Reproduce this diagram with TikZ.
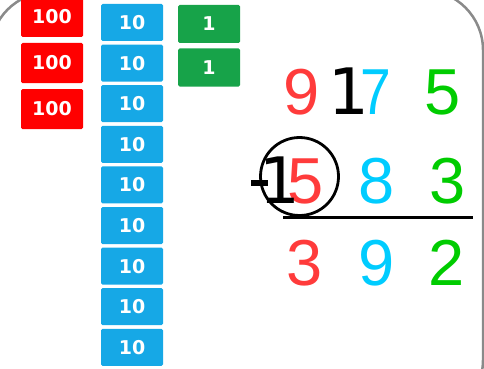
\documentclass[tikz,border=0pt]{standalone}
\usepackage{fontspec}
\newfontfamily\lib{Liberation Sans}
\newfontfamily\dvs{DejaVu Sans}
\definecolor{blkred}{HTML}{FF0000}
\definecolor{blkblue}{HTML}{16A8E6}
\definecolor{blkgreen}{HTML}{17A349}
\definecolor{dred}{HTML}{FF3B3B}
\definecolor{dcyan}{HTML}{00CCFF}
\definecolor{dgreen}{HTML}{00CC00}
\definecolor{frame}{HTML}{8A8A8A}
\tikzset{
  block/.style={minimum width=62pt, minimum height=#1, inner sep=0pt, rounded corners=1.5pt,
    text=white, font=\dvs\bfseries\fontsize{19pt}{19pt}\selectfont},
  hund/.style={block=40pt, fill=blkred},
  tens/.style={block=37pt, fill=blkblue},
  ones/.style={block=38pt, fill=blkgreen},
  dig/.style={anchor=base, inner sep=0pt, font=\lib\fontsize{65pt}{65pt}\selectfont},
  bone/.style={anchor=base, inner sep=0pt, font=\dvs\fontsize{64pt}{64pt}\selectfont},
}
\begin{document}
\begin{tikzpicture}[x=1pt, y=-1pt]
\useasboundingbox (0,0) rectangle (484,369);
\begin{scope}
\clip (0,0) rectangle (484,369);
\draw[frame, line width=2.5pt, rounded corners=60pt]
  (200,-10) -- (483,-10) -- (483,420) -- (-10,420) -- (-10,-8) -- (200,-8);
\end{scope}
% hundreds
\node[hund] (h1) at (52,17) {100};
\node[hund] (h2) at (52,63) {100};
\node[hund] (h3) at (52,109) {100};
% tens
\foreach \i in {0,...,8} {
  \node[tens] (t\i) at (132,22.5+40.6*\i) {10};
}
% ones
\node[ones] (o1) at (209,24) {1};
\node[ones] (o2) at (209,67.5) {1};
% row 1
\node[dig, text=dred] (a9) at (302,114) {9};
\node[bone] (a1) at (349,114) {1};
\node[dig, text=dcyan, xscale=0.85, transform shape] (a7) at (375.5,114) {7};
\node[dig, text=dgreen] (a5) at (443,114) {5};
% row 2
\node[dig, text=dred] (b5) at (306,203) {5};
\node[bone] (b1) at (280,203) {1};
\draw[line width=6pt] (251,183) -- (268,183);
\node[dig, text=dcyan] (b8) at (377,203) {8};
\node[dig, text=dgreen] (b3) at (447.5,203) {3};
\node[draw, circle, line width=2.8pt, minimum size=78pt, inner sep=0pt] (c) at (299.5,176.5) {};
% line
\coordinate (l1) at (283,217);
\coordinate (l2) at (473,217);
\draw[line width=3pt] (l1) -- (l2);
% row 3
\node[dig, text=dred] (r3) at (305,285) {3};
\node[dig, text=dcyan] (r9) at (377,285) {9};
\node[dig, text=dgreen] (r2) at (447,285) {2};
\end{tikzpicture}
\end{document}
